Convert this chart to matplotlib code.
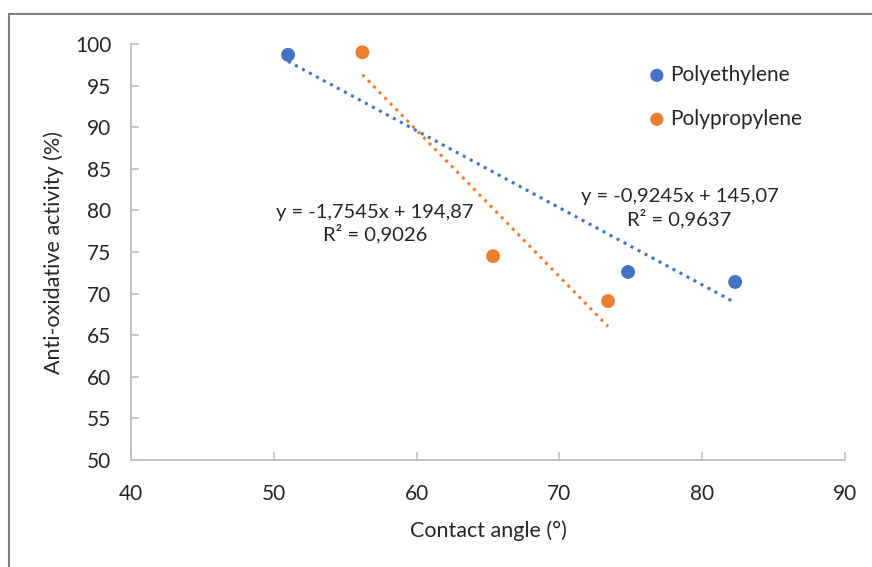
import matplotlib.pyplot as plt
from matplotlib.lines import Line2D
import numpy as np

plt.rcParams['font.family'] = ['Lato', 'DejaVu Sans']

# contact angle (deg) vs anti-oxidative activity (%)
pe_angle = [51.0, 74.8, 82.3]
pe_activity = [98.7, 72.6, 71.4]
pp_angle = [56.2, 65.35, 73.4]
pp_activity = [99.0, 74.5, 69.1]

pe_eq = "y = -0,9245x + 145,07\nR² = 0,9637"
pp_eq = "y = -1,7545x + 194,87\nR² = 0,9026"

blue = '#4472C4'
orange = '#ED7D31'
grey = '#BFBFBF'
txt = '#262626'

fig = plt.figure(figsize=(8.72, 5.67), dpi=100)
ax = fig.add_axes([0.1502, 0.1887, 0.819, 0.7337])

for xs, ys, c, name in [(pe_angle, pe_activity, blue, 'Polyethylene'),
                        (pp_angle, pp_activity, orange, 'Polypropylene')]:
    ax.scatter(xs, ys, s=100, color=c, zorder=3, label=name, edgecolors='none')
    k, b = np.polyfit(xs, ys, 1)
    xx = np.array([min(xs), max(xs)])
    ax.plot(xx, k * xx + b, ls=(0, (1, 1.6)), lw=2.2, color=c, zorder=2)

ax.text(57.1, 78.4, pp_eq, ha='center', va='center', fontsize=14.5,
        color=txt, linespacing=1.2)
ax.text(78.4, 80.3, pe_eq, ha='center', va='center', fontsize=14.5,
        color=txt, linespacing=1.2)

ax.set_xlim(40, 90)
ax.set_ylim(50, 100)
ax.set_xticks(np.arange(40, 91, 10))
ax.set_yticks(np.arange(50, 101, 5))
ax.tick_params(labelsize=15, colors=grey, labelcolor=txt, direction='in',
               length=6, width=1.2)
ax.tick_params(axis='x', pad=17)
ax.tick_params(axis='y', pad=14)
for s in ['top', 'right']:
    ax.spines[s].set_visible(False)
for s in ['left', 'bottom']:
    ax.spines[s].set_color(grey)
    ax.spines[s].set_linewidth(1.3)

ax.set_xlabel('Contact angle (°)', fontsize=15.5, color=txt, labelpad=12)
ax.set_ylabel('Anti-oxidative activity (%)', fontsize=15.5, color=txt, labelpad=8)

ax.legend(loc='upper left', bbox_to_anchor=(0.713, 0.97), frameon=False,
          fontsize=15, handlelength=0.8, handletextpad=0.25, labelspacing=1.15,
          markerscale=0.95, borderaxespad=0, labelcolor=txt)

# frame lines around the figure
fig.add_artist(Line2D([9 / 872, 1], [1 - 14 / 567] * 2, color='#7F7F7F', lw=1.5))
fig.add_artist(Line2D([9 / 872] * 2, [0, 1 - 14 / 567], color='#7F7F7F', lw=1.5))

fig.savefig('out.png', dpi=100)
